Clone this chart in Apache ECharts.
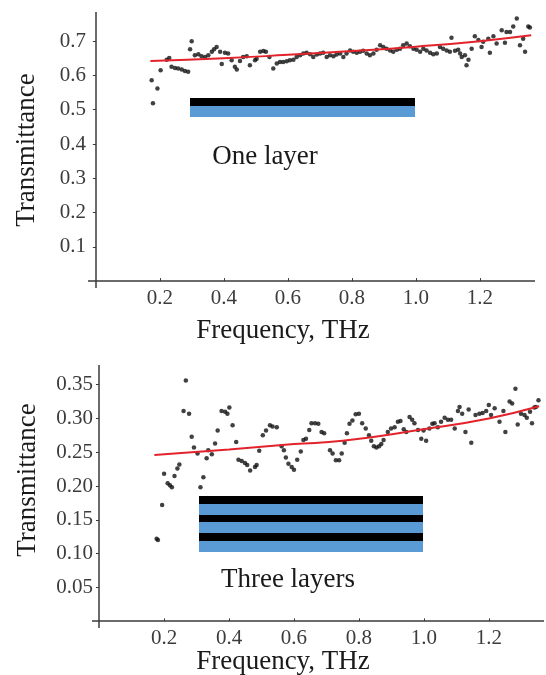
<!DOCTYPE html>
<html>
<head>
<meta charset="utf-8">
<title>Transmittance vs frequency</title>
<script src="https://cdn.jsdelivr.net/npm/echarts@6/dist/echarts.min.js"></script>
<style>
  html, body { margin: 0; padding: 0; background: #ffffff; }
  #chart { width: 546px; height: 675px; }
</style>
</head>
<body>
<div id="chart"></div>
<script>
// One layer: measured transmittance
const freqOne = [
  0.174, 0.178, 0.192, 0.202, 0.221, 0.229, 0.236, 0.247, 0.257, 0.268, 0.278, 0.288,
  0.294, 0.299, 0.309, 0.320, 0.330, 0.341, 0.351, 0.362, 0.369, 0.377, 0.388, 0.393,
  0.403, 0.413, 0.424, 0.434, 0.440, 0.450, 0.460, 0.471, 0.481, 0.497, 0.502, 0.513,
  0.523, 0.531, 0.542, 0.554, 0.565, 0.575, 0.585, 0.596, 0.606, 0.617, 0.627, 0.638,
  0.648, 0.658, 0.669, 0.679, 0.690, 0.700, 0.710, 0.721, 0.731, 0.742, 0.752, 0.763,
  0.773, 0.783, 0.794, 0.804, 0.815, 0.825, 0.835, 0.846, 0.856, 0.867, 0.877, 0.888,
  0.898, 0.908, 0.919, 0.929, 0.940, 0.950, 0.960, 0.971, 0.981, 0.992, 1.002, 1.013,
  1.023, 1.033, 1.044, 1.054, 1.065, 1.075, 1.085, 1.096, 1.106, 1.111, 1.122, 1.132,
  1.138, 1.143, 1.153, 1.158, 1.164, 1.174, 1.184, 1.195, 1.205, 1.210, 1.226, 1.231,
  1.242, 1.252, 1.268, 1.278, 1.283, 1.294, 1.304, 1.315, 1.325, 1.335, 1.341, 1.351,
  1.356
];
const transOne = [
  0.586, 0.519, 0.562, 0.615, 0.646, 0.651, 0.625, 0.622, 0.620, 0.617, 0.613, 0.611,
  0.676, 0.700, 0.659, 0.662, 0.656, 0.654, 0.659, 0.669, 0.676, 0.683, 0.669, 0.633,
  0.666, 0.664, 0.644, 0.625, 0.617, 0.642, 0.654, 0.656, 0.630, 0.644, 0.649, 0.669,
  0.671, 0.669, 0.654, 0.620, 0.635, 0.639, 0.639, 0.641, 0.644, 0.646, 0.654, 0.659,
  0.664, 0.666, 0.662, 0.654, 0.661, 0.664, 0.666, 0.654, 0.659, 0.656, 0.661, 0.664,
  0.654, 0.664, 0.673, 0.669, 0.666, 0.669, 0.672, 0.664, 0.659, 0.664, 0.675, 0.688,
  0.683, 0.678, 0.673, 0.669, 0.675, 0.678, 0.688, 0.693, 0.685, 0.678, 0.675, 0.669,
  0.678, 0.673, 0.666, 0.662, 0.664, 0.683, 0.678, 0.673, 0.669, 0.710, 0.672, 0.675,
  0.664, 0.654, 0.659, 0.630, 0.646, 0.678, 0.714, 0.703, 0.683, 0.698, 0.707, 0.666,
  0.714, 0.693, 0.732, 0.695, 0.727, 0.727, 0.743, 0.766, 0.688, 0.707, 0.669, 0.743,
  0.740
];
// One layer: fitted curve
const fitFreqOne = [0.17, 0.40, 0.60, 0.80, 1.00, 1.20, 1.36];
const fitTransOne = [0.642, 0.650, 0.660, 0.671, 0.684, 0.700, 0.717];

// Three layers: measured transmittance
const freqThree = [
  0.177, 0.181, 0.194, 0.200, 0.211, 0.218, 0.224, 0.232, 0.241, 0.247, 0.260, 0.267,
  0.277, 0.285, 0.292, 0.303, 0.312, 0.321, 0.331, 0.336, 0.347, 0.357, 0.365, 0.377,
  0.388, 0.395, 0.401, 0.411, 0.422, 0.429, 0.439, 0.449, 0.456, 0.465, 0.480, 0.485,
  0.493, 0.504, 0.514, 0.526, 0.534, 0.547, 0.562, 0.569, 0.575, 0.583, 0.593, 0.600,
  0.610, 0.621, 0.629, 0.637, 0.647, 0.654, 0.665, 0.675, 0.685, 0.693, 0.711, 0.719,
  0.729, 0.739, 0.747, 0.756, 0.763, 0.771, 0.780, 0.790, 0.800, 0.810, 0.821, 0.831,
  0.838, 0.846, 0.854, 0.862, 0.869, 0.876, 0.889, 0.899, 0.910, 0.920, 0.928, 0.938,
  0.946, 0.956, 0.964, 0.971, 0.982, 0.992, 0.999, 1.007, 1.017, 1.026, 1.033, 1.043,
  1.053, 1.064, 1.074, 1.084, 1.095, 1.105, 1.110, 1.118, 1.128, 1.138, 1.146, 1.159,
  1.171, 1.181, 1.192, 1.200, 1.207, 1.218, 1.233, 1.245, 1.251, 1.264, 1.272, 1.282,
  1.289, 1.299, 1.310, 1.317, 1.327, 1.333, 1.340, 1.345, 1.353
];
const transThree = [
  0.122, 0.120, 0.172, 0.218, 0.204, 0.201, 0.198, 0.215, 0.226, 0.232, 0.311, 0.356,
  0.307, 0.273, 0.257, 0.248, 0.198, 0.213, 0.241, 0.253, 0.247, 0.263, 0.282, 0.311,
  0.310, 0.307, 0.316, 0.290, 0.265, 0.239, 0.237, 0.234, 0.231, 0.223, 0.228, 0.231,
  0.252, 0.275, 0.282, 0.290, 0.288, 0.287, 0.259, 0.253, 0.242, 0.233, 0.228, 0.224,
  0.239, 0.251, 0.268, 0.270, 0.283, 0.293, 0.293, 0.292, 0.280, 0.278, 0.253, 0.248,
  0.238, 0.238, 0.248, 0.264, 0.278, 0.292, 0.297, 0.306, 0.307, 0.293, 0.285, 0.275,
  0.267, 0.259, 0.257, 0.259, 0.262, 0.268, 0.280, 0.285, 0.287, 0.295, 0.296, 0.284,
  0.280, 0.302, 0.298, 0.293, 0.283, 0.270, 0.282, 0.267, 0.285, 0.292, 0.293, 0.287,
  0.295, 0.301, 0.298, 0.298, 0.285, 0.311, 0.317, 0.307, 0.280, 0.313, 0.264, 0.305,
  0.307, 0.308, 0.311, 0.320, 0.305, 0.315, 0.295, 0.311, 0.280, 0.325, 0.322, 0.344,
  0.291, 0.307, 0.305, 0.301, 0.310, 0.293, 0.316, 0.317, 0.327
];
// Three layers: fitted curve
const fitFreqThree = [0.17, 0.40, 0.60, 0.75, 1.00, 1.20, 1.355];
const fitTransThree = [0.246, 0.254, 0.262, 0.267, 0.284, 0.300, 0.318];

// Tick labels
const freqTicks = [0.2, 0.4, 0.6, 0.8, 1.0, 1.2];
const transTicksOne = [0.1, 0.2, 0.3, 0.4, 0.5, 0.6, 0.7];
const transTicksThree = [0.05, 0.10, 0.15, 0.20, 0.25, 0.30, 0.35];

// Axis ranges
const freqRangeOne = [-0.025, 1.372];
const freqRangeThree = [-0.022, 1.37];
const transRangeOne = [-0.02, 0.785];
const transRangeThree = [-0.01, 0.379];

const zip = (xs, ys) => xs.map((x, i) => [x, ys[i]]);

const serif = 'Liberation Serif';
const axisColor = '#3a3a3a';
const labelColor = '#3c3c3c';
const dotColor = '#111111';
const fitColor = '#e3232b';
const substrate = '#5b9bd5';

// Tick labels come from the axes; the two axis lines and their ticks are drawn
// as mark lines through the origin so that they overhang slightly.
function xAxisFor(gridIndex, range) {
  return {
    type: 'value', gridIndex, min: range[0], max: range[1], position: 'bottom',
    splitLine: { show: false },
    axisLine: { show: false, onZero: false },
    axisTick: { show: false },
    axisLabel: { customValues: freqTicks, margin: 0, fontFamily: serif, fontSize: 21,
                 color: labelColor, formatter: v => v.toFixed(1) }
  };
}
function yAxisFor(gridIndex, range, ticks, digits, margin) {
  return {
    type: 'value', gridIndex, min: range[0], max: range[1], position: 'left',
    splitLine: { show: false },
    axisLine: { show: false, onZero: false },
    axisTick: { show: false },
    axisLabel: { customValues: ticks, margin, fontFamily: serif, fontSize: 21,
                 color: labelColor, formatter: v => v.toFixed(digits) }
  };
}

function axisCross(xr, yr, xTicks, yTicks, xi) {
  const ls = { color: axisColor, width: 1.5, type: 'solid' };
  const tick = { color: axisColor, width: 1, type: 'solid' };
  const dx = (xr[1] - xr[0]) * 0.007;
  const dy = (yr[1] - yr[0]) * 0.011;
  const lines = [
    [{ coord: [xr[0], 0], lineStyle: ls }, { coord: [xr[1], 0] }],
    [{ coord: [0, yr[0]], lineStyle: ls }, { coord: [0, yr[1]] }]
  ];
  xTicks.forEach(v => lines.push([{ coord: [v, 0], lineStyle: tick }, { coord: [v, dy] }]));
  yTicks.forEach(v => lines.push([{ coord: [-dx, v], lineStyle: tick }, { coord: [0, v] }]));
  return {
    type: 'line', xAxisIndex: xi, yAxisIndex: xi, data: [], silent: true,
    markLine: { symbol: 'none', silent: true, animation: false, label: { show: false },
                lineStyle: ls, data: lines }
  };
}

function titleText(x, y, text, rotate) {
  return {
    type: 'text', x, y, rotation: rotate ? Math.PI / 2 : 0,
    style: { text, fontFamily: serif, fontSize: 27, fill: '#1a1a1a',
             align: 'center', verticalAlign: 'middle' }
  };
}
function layerRect(x, y, w, h, color) {
  return { type: 'rect', shape: { x, y, width: w, height: h }, style: { fill: color } };
}

const option = {
  backgroundColor: '#ffffff',
  animation: false,
  grid: [
    { left: 88, right: 11, top: 12, height: 276, containLabel: false, outerBoundsMode: 'none' },
    { left: 92, right: 2, top: 365, height: 263, containLabel: false, outerBoundsMode: 'none' }
  ],
  xAxis: [xAxisFor(0, freqRangeOne), xAxisFor(1, freqRangeThree)],
  yAxis: [yAxisFor(0, transRangeOne, transTicksOne, 1, 2),
          yAxisFor(1, transRangeThree, transTicksThree, 2, -1)],
  series: [
    axisCross(freqRangeOne, transRangeOne, freqTicks, transTicksOne, 0),
    axisCross(freqRangeThree, transRangeThree, freqTicks, transTicksThree, 1),
    { type: 'scatter', xAxisIndex: 0, yAxisIndex: 0, data: zip(freqOne, transOne),
      symbolSize: 4.5, itemStyle: { color: dotColor }, z: 3 },
    { type: 'line', xAxisIndex: 0, yAxisIndex: 0, data: zip(fitFreqOne, fitTransOne),
      smooth: true, showSymbol: false, lineStyle: { color: fitColor, width: 2 }, z: 4 },
    { type: 'scatter', xAxisIndex: 1, yAxisIndex: 1, data: zip(freqThree, transThree),
      symbolSize: 4.5, itemStyle: { color: dotColor }, z: 3 },
    { type: 'line', xAxisIndex: 1, yAxisIndex: 1, data: zip(fitFreqThree, fitTransThree),
      smooth: true, showSymbol: false, lineStyle: { color: fitColor, width: 2 }, z: 4 }
  ],
  graphic: [
    titleText(27, 150, 'Transmittance', true),
    titleText(283, 331, 'Frequency, THz', false),
    titleText(28, 480, 'Transmittance', true),
    titleText(283, 662, 'Frequency, THz', false),
    // single-layer sample sketch
    layerRect(190, 98, 225, 8, '#000000'),
    layerRect(190, 106, 225, 11, substrate),
    titleText(265, 157, 'One layer', false),
    // three-layer sample sketch
    layerRect(199, 496, 224, 8, '#000000'),
    layerRect(199, 504, 224, 11, substrate),
    layerRect(199, 515, 224, 7, '#000000'),
    layerRect(199, 522, 224, 11, substrate),
    layerRect(199, 533, 224, 8, '#000000'),
    layerRect(199, 541, 224, 11, substrate),
    titleText(288, 580, 'Three layers', false)
  ]
};

const chart = echarts.init(document.getElementById('chart'), null, { renderer: 'canvas' });
chart.setOption(option);
</script>
</body>
</html>
